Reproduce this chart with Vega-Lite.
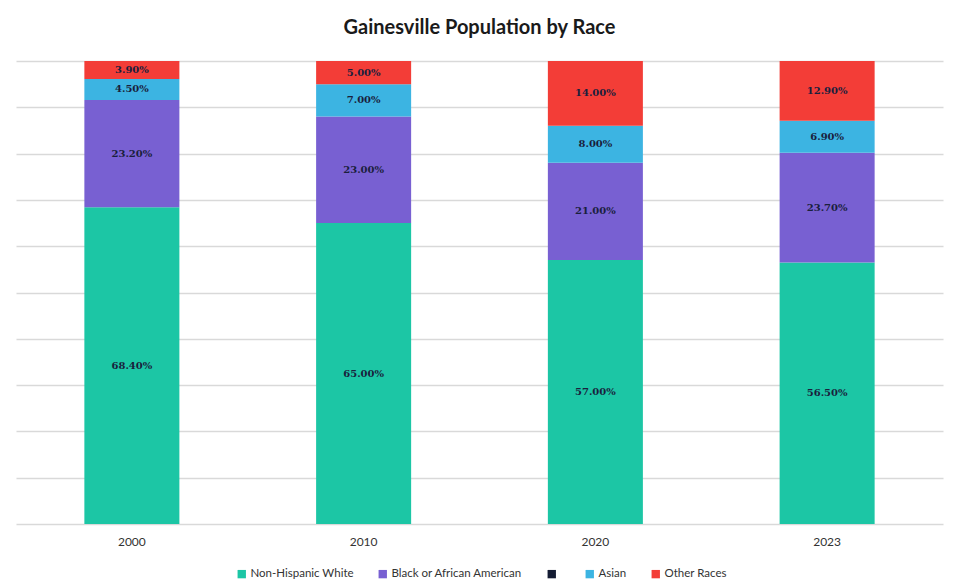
{
  "$schema": "https://vega.github.io/schema/vega-lite/v6.json",
  "width": 927,
  "height": 463,
  "autosize": "none",
  "padding": {"left": 16, "top": 61, "right": 12, "bottom": 61},
  "background": "white",
  "title": {
    "text": "Gainesville Population by Race",
    "font": "Lato",
    "fontSize": 20,
    "fontWeight": "bold",
    "color": "#1a1a1a",
    "offset": 23,
    "anchor": "middle"
  },
  "config": {
    "view": {"stroke": null},
    "font": "Lato"
  },
  "data": {
    "values": [
      {"year": "2000", "race": "Non-Hispanic White", "rank": 1, "value": 0.684},
      {"year": "2000", "race": "Black or African American", "rank": 2, "value": 0.232},
      {"year": "2000", "race": "Asian", "rank": 3, "value": 0.045},
      {"year": "2000", "race": "Other Races", "rank": 4, "value": 0.039},
      {"year": "2010", "race": "Non-Hispanic White", "rank": 1, "value": 0.65},
      {"year": "2010", "race": "Black or African American", "rank": 2, "value": 0.23},
      {"year": "2010", "race": "Asian", "rank": 3, "value": 0.07},
      {"year": "2010", "race": "Other Races", "rank": 4, "value": 0.05},
      {"year": "2020", "race": "Non-Hispanic White", "rank": 1, "value": 0.57},
      {"year": "2020", "race": "Black or African American", "rank": 2, "value": 0.21},
      {"year": "2020", "race": "Asian", "rank": 3, "value": 0.08},
      {"year": "2020", "race": "Other Races", "rank": 4, "value": 0.14},
      {"year": "2023", "race": "Non-Hispanic White", "rank": 1, "value": 0.565},
      {"year": "2023", "race": "Black or African American", "rank": 2, "value": 0.237},
      {"year": "2023", "race": "Asian", "rank": 3, "value": 0.069},
      {"year": "2023", "race": "Other Races", "rank": 4, "value": 0.129}
    ]
  },
  "transform": [
    {"stack": "value", "groupby": ["year"], "sort": [{"field": "rank", "order": "ascending"}], "as": ["y0", "y1"]},
    {"calculate": "(datum.y0 + datum.y1) / 2", "as": "ymid"}
  ],
  "encoding": {
    "x": {
      "field": "year",
      "type": "nominal",
      "title": null,
      "scale": {"paddingInner": 0.59, "paddingOuter": 0.295},
      "axis": {
        "labelAngle": 0,
        "labelFont": "Lato",
        "labelFontSize": 12,
        "labelColor": "#333333",
        "labelPadding": 12,
        "domain": false,
        "ticks": false
      }
    }
  },
  "layer": [
    {
      "mark": {"type": "bar"},
      "encoding": {
        "y": {
          "field": "y0",
          "type": "quantitative",
          "scale": {"domain": [0, 1]},
          "title": null,
          "axis": {
            "labels": false,
            "ticks": false,
            "domain": false,
            "tickCount": 10,
            "grid": true,
            "gridColor": "#d9d9d9",
            "gridWidth": 1.5
          }
        },
        "y2": {"field": "y1"},
        "color": {
          "field": "race",
          "type": "nominal",
          "scale": {
            "domain": ["Non-Hispanic White", "Black or African American", " ", "Asian", "Other Races"],
            "range": ["#1cc6a5", "#7860d2", "#141c33", "#3cb4e2", "#f33d37"]
          },
          "legend": {
            "title": null,
            "orient": "none",
            "legendX": 220,
            "legendY": 507,
            "direction": "horizontal",
            "symbolType": "square",
            "symbolSize": 70,
            "symbolStrokeWidth": 0,
            "labelFont": "Lato",
            "labelFontSize": 11.5,
            "labelColor": "#333333",
            "columnPadding": 23,
            "labelOffset": 3
          }
        }
      }
    },
    {
      "mark": {"type": "text", "font": "DejaVu Serif", "fontSize": 10, "fontWeight": "bold", "color": "#1a1f3d", "baseline": "middle"},
      "encoding": {
        "y": {"field": "ymid", "type": "quantitative"},
        "text": {"field": "value", "type": "quantitative", "format": ".2%"}
      }
    }
  ]
}
